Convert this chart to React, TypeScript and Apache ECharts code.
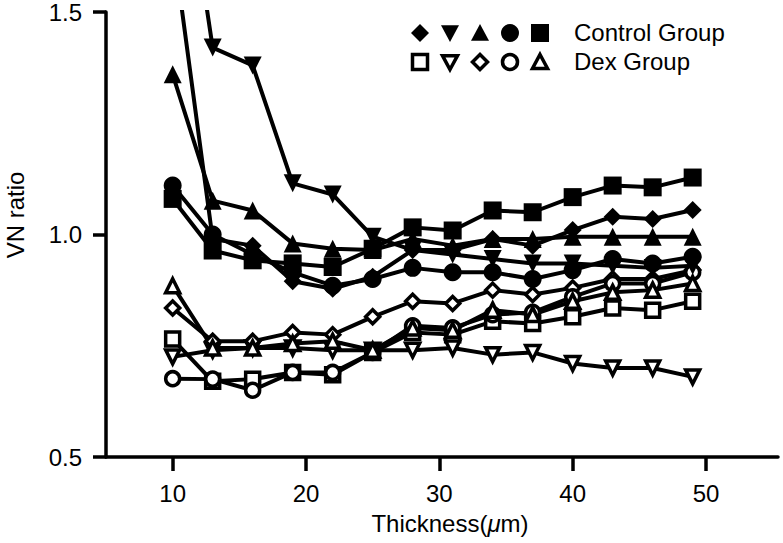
import React, { useEffect, useRef } from "react";
import * as echarts from "echarts";

const FONT = "'Liberation Sans', Arial, Helvetica, sans-serif";

// Thickness (µm)
const thickness = [10, 13, 16, 19, 22, 25, 28, 31, 34, 37, 40, 43, 46, 49];
const xTicks = [10, 20, 30, 40, 50];

// Control group (filled markers)
const ctrlDiamond = [1.66, 0.99, 0.975, 0.895, 0.878, 0.905, 0.965, 0.965, 0.99, 0.975, 1.01, 1.04, 1.035, 1.055];
const ctrlDownTri = [2.02, 1.42, 1.38, 1.115, 1.09, 0.995, 0.965, 0.955, 0.945, 0.935, 0.935, 0.93, 0.925, 0.93];
const ctrlTri = [1.36, 1.076, 1.054, 0.98, 0.968, 0.965, 0.99, 0.975, 0.99, 0.99, 0.995, 0.995, 0.995, 0.995];
const ctrlCircle = [1.11, 1.0, 0.955, 0.915, 0.885, 0.9, 0.925, 0.915, 0.915, 0.9, 0.92, 0.945, 0.935, 0.95];
const ctrlSquare = [1.08, 0.964, 0.942, 0.935, 0.927, 0.968, 1.016, 1.009, 1.054, 1.05, 1.084, 1.11, 1.106, 1.128];

// Dex group (open markers)
const dexSquare = [0.765, 0.67, 0.675, 0.69, 0.685, 0.735, 0.78, 0.775, 0.805, 0.8, 0.815, 0.835, 0.83, 0.85];
const dexDownTri = [0.725, 0.74, 0.745, 0.745, 0.74, 0.74, 0.74, 0.745, 0.73, 0.735, 0.71, 0.7, 0.7, 0.68];
const dexDiamond = [0.835, 0.76, 0.76, 0.78, 0.775, 0.815, 0.85, 0.845, 0.875, 0.865, 0.88, 0.9, 0.9, 0.92];
const dexCircle = [0.676, 0.675, 0.65, 0.69, 0.69, 0.735, 0.795, 0.79, 0.82, 0.825, 0.86, 0.89, 0.89, 0.915];
const dexTri = [0.885, 0.745, 0.745, 0.755, 0.76, 0.74, 0.79, 0.785, 0.83, 0.82, 0.85, 0.87, 0.875, 0.89];

type Def = { name: string; values: number[]; symbol: string; rotate: number; open: boolean };

const defs: Def[] = [
  { name: "Dex square", values: dexSquare, symbol: "rect", rotate: 0, open: true },
  { name: "Dex down triangle", values: dexDownTri, symbol: "triangle", rotate: 180, open: true },
  { name: "Dex diamond", values: dexDiamond, symbol: "diamond", rotate: 0, open: true },
  { name: "Dex circle", values: dexCircle, symbol: "circle", rotate: 0, open: true },
  { name: "Dex triangle", values: dexTri, symbol: "triangle", rotate: 0, open: true },
  { name: "Control diamond", values: ctrlDiamond, symbol: "diamond", rotate: 0, open: false },
  { name: "Control down triangle", values: ctrlDownTri, symbol: "triangle", rotate: 180, open: false },
  { name: "Control triangle", values: ctrlTri, symbol: "triangle", rotate: 0, open: false },
  { name: "Control circle", values: ctrlCircle, symbol: "circle", rotate: 0, open: false },
  { name: "Control square", values: ctrlSquare, symbol: "rect", rotate: 0, open: false },
];

function legendMarker(kind: string, cx: number, cy: number, open: boolean): any {
  const style = open
    ? { fill: "#fff", stroke: "#000", lineWidth: 3.5 }
    : { fill: "#000" };
  const h = open ? 7.5 : 9;
  if (kind === "circle") return { type: "circle", shape: { cx, cy, r: h }, style };
  if (kind === "rect") return { type: "rect", shape: { x: cx - h, y: cy - h, width: 2 * h, height: 2 * h }, style };
  if (kind === "diamond")
    return { type: "polygon", shape: { points: [[cx, cy - h], [cx + h, cy], [cx, cy + h], [cx - h, cy]] }, style };
  if (kind === "tri")
    return { type: "polygon", shape: { points: [[cx, cy - h], [cx + h, cy + h * 0.85], [cx - h, cy + h * 0.85]] }, style };
  return { type: "polygon", shape: { points: [[cx, cy + h], [cx + h, cy - h * 0.85], [cx - h, cy - h * 0.85]] }, style };
}

export default function App() {
  const ref = useRef<HTMLDivElement>(null);
  useEffect(() => {
    if (!ref.current) return;
    const chart = echarts.init(ref.current, null, { renderer: "svg" });
    const series = defs.map((d) => ({
      name: d.name,
      type: "line",
      data: thickness.map((x, i) => [x, d.values[i]]),
      symbol: d.symbol,
      symbolRotate: d.rotate,
      symbolSize: d.open ? 14 : 18,
      showSymbol: true,
      showAllSymbol: true,
      clip: true,
      lineStyle: { color: "#000", width: 4 },
      itemStyle: d.open
        ? { color: "#fff", borderColor: "#000", borderWidth: 3.5 }
        : { color: "#000", borderWidth: 0 },
      emphasis: { disabled: true },
    }));

    const legendY1 = 33;
    const legendY2 = 62;
    const lx = [420, 450, 480, 510, 540];
    const row1 = ["diamond", "down", "tri", "circle", "rect"];
    const row2 = ["rect", "down", "diamond", "circle", "tri"];

    const graphic: any[] = [];
    row1.forEach((k, i) => graphic.push(legendMarker(k, lx[i], legendY1, false)));
    row2.forEach((k, i) => graphic.push(legendMarker(k, lx[i], legendY2, true)));
    graphic.push({
      type: "text",
      x: 574,
      y: legendY1 - 1,
      style: { text: "Control Group", font: `24px ${FONT}`, fill: "#000", textAlign: "left", textVerticalAlign: "middle" },
    });
    graphic.push({
      type: "text",
      x: 574,
      y: legendY2 - 1,
      style: { text: "Dex Group", font: `24px ${FONT}`, fill: "#000", textAlign: "left", textVerticalAlign: "middle" },
    });
    graphic.push({
      type: "text",
      x: 15,
      y: 215,
      rotation: Math.PI / 2,
      style: { text: "VN ratio", font: `24px ${FONT}`, fill: "#000", textAlign: "center", textVerticalAlign: "middle" },
    });
    graphic.push({
      type: "text",
      x: 450,
      y: 523,
      style: {
        text: "{a|Thickness(}{b|μ}{a|m)}",
        fill: "#000",
        textAlign: "center",
        textVerticalAlign: "middle",
        rich: {
          a: { fontSize: 24, fontFamily: FONT, fill: "#000", color: "#000" },
          b: { fontSize: 24, fontFamily: FONT, fontStyle: "italic", fill: "#000", color: "#000" },
        },
      },
    });

    chart.setOption({
      animation: false,
      backgroundColor: "#fff",
      grid: { left: 106, right: 5, top: 11, bottom: 86, containLabel: false },
      xAxis: {
        type: "value",
        min: 5,
        max: 55.4,
        axisLine: { show: true, lineStyle: { color: "#000", width: 3.5 } },
        axisTick: { show: true, customValues: xTicks, length: 14, lineStyle: { color: "#000", width: 3.5 } },
        axisLabel: { customValues: xTicks, fontSize: 24, color: "#000", fontFamily: FONT, margin: 24 },
        splitLine: { show: false },
      },
      yAxis: {
        type: "value",
        min: 0.5,
        max: 1.5,
        interval: 0.5,
        axisLine: { show: true, lineStyle: { color: "#000", width: 3.5 } },
        axisTick: { show: true, length: 13, lineStyle: { color: "#000", width: 3.5 } },
        axisLabel: {
          fontSize: 24,
          color: "#000",
          fontFamily: FONT,
          margin: 24,
          formatter: (v: number) => v.toFixed(1),
        },
        splitLine: { show: false },
      },
      series,
      graphic,
    });
    return () => chart.dispose();
  }, []);
  return (
    <div
      ref={ref}
      style={{ position: "fixed", left: 0, top: 0, width: 783, height: 543, background: "#fff" }}
    />
  );
}
